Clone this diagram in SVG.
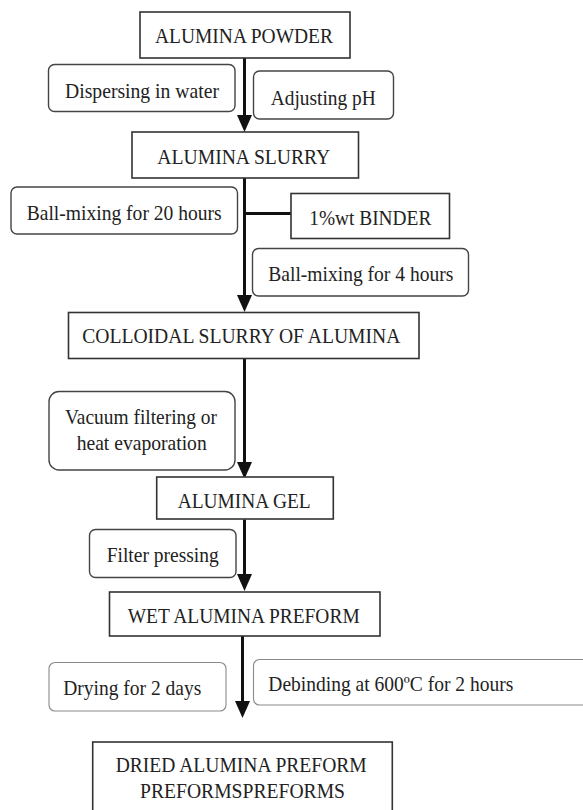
<svg xmlns="http://www.w3.org/2000/svg" width="583" height="810" viewBox="0 0 583 810">
<style>
  text { font-family: "Liberation Serif", "Times New Roman", serif; font-size: 22px; fill: #222; }
  .main { fill: #fff; stroke: #333; stroke-width: 1.6; }
  .step { fill: #fff; stroke: #444; stroke-width: 1.4; }
  .light { fill: #fff; stroke: #8a8a8a; stroke-width: 1.1; }
  .flow { stroke: #111; stroke-width: 3; fill: none; }
</style>
<defs>
  <marker id="arrow" markerUnits="userSpaceOnUse" markerWidth="17" markerHeight="15" viewBox="0 0 17 15" refX="9" refY="7.5" orient="auto">
    <path d="M0,0 L17,7.5 L0,15 z" fill="#111"/>
  </marker>
</defs>
<rect width="583" height="810" fill="#fff"/>
<g id="connectors">
  <line class="flow" x1="244.5" y1="58" x2="244.5" y2="124" marker-end="url(#arrow)"/>
  <line class="flow" x1="244.5" y1="178" x2="244.5" y2="304" marker-end="url(#arrow)"/>
  <line class="flow" x1="244.5" y1="213.5" x2="291" y2="213.5"/>
  <line class="flow" x1="244.5" y1="359" x2="244.5" y2="471" marker-end="url(#arrow)"/>
  <line class="flow" x1="244.5" y1="519.5" x2="244.5" y2="583" marker-end="url(#arrow)"/>
  <line class="flow" x1="242.5" y1="636" x2="242.5" y2="710" marker-end="url(#arrow)"/>
</g>
<g id="alumina-powder">
  <rect class="main" x="140" y="12" width="210" height="46"/>
  <text x="155" y="43" textLength="178" lengthAdjust="spacingAndGlyphs">ALUMINA POWDER</text>
</g>
<g id="dispersing">
  <rect class="step" x="48.5" y="64.5" width="186.5" height="47" rx="6"/>
  <text x="65" y="97.5" textLength="154" lengthAdjust="spacingAndGlyphs">Dispersing in water</text>
</g>
<g id="adjusting-ph">
  <rect class="step" x="253.5" y="71" width="140" height="48" rx="6"/>
  <text x="270.7" y="104.5" textLength="105" lengthAdjust="spacingAndGlyphs">Adjusting pH</text>
</g>
<g id="alumina-slurry">
  <rect class="main" x="132" y="132" width="226.5" height="46"/>
  <text x="157.3" y="163.5" textLength="173" lengthAdjust="spacingAndGlyphs">ALUMINA SLURRY</text>
</g>
<g id="ball-mixing-20">
  <rect class="step" x="11" y="187" width="226.5" height="47" rx="6"/>
  <text x="26.7" y="220" textLength="195" lengthAdjust="spacingAndGlyphs">Ball-mixing for 20 hours</text>
</g>
<g id="binder">
  <rect class="main" x="291" y="193.5" width="158.5" height="45"/>
  <text x="309.3" y="225" textLength="122" lengthAdjust="spacingAndGlyphs">1%wt BINDER</text>
</g>
<g id="ball-mixing-4">
  <rect class="step" x="252.5" y="248.5" width="216" height="47.5" rx="6"/>
  <text x="268.3" y="280.7" textLength="185" lengthAdjust="spacingAndGlyphs">Ball-mixing for 4 hours</text>
</g>
<g id="colloidal-slurry">
  <rect class="main" x="68.5" y="312.5" width="350.5" height="46"/>
  <text x="82.3" y="343.3" textLength="318" lengthAdjust="spacingAndGlyphs">COLLOIDAL SLURRY OF ALUMINA</text>
</g>
<g id="vacuum-filtering">
  <rect class="step" x="49" y="391.5" width="186" height="78.5" rx="10"/>
  <text x="65" y="424" textLength="152" lengthAdjust="spacingAndGlyphs">Vacuum filtering or</text>
  <text x="76.7" y="450" textLength="130" lengthAdjust="spacingAndGlyphs">heat evaporation</text>
</g>
<g id="alumina-gel">
  <rect class="main" x="156.7" y="477" width="176.6" height="42"/>
  <text x="177.7" y="508.3" textLength="133" lengthAdjust="spacingAndGlyphs">ALUMINA GEL</text>
</g>
<g id="filter-pressing">
  <rect class="step" x="89.5" y="529.5" width="146.5" height="48" rx="6"/>
  <text x="106.7" y="561.7" textLength="112" lengthAdjust="spacingAndGlyphs">Filter pressing</text>
</g>
<g id="wet-preform">
  <rect class="main" x="109.5" y="592" width="270.5" height="44"/>
  <text x="127.7" y="622.7" textLength="232" lengthAdjust="spacingAndGlyphs">WET ALUMINA PREFORM</text>
</g>
<g id="drying">
  <rect class="light" x="49" y="662.5" width="177" height="48.5" rx="6"/>
  <text x="63.3" y="695" textLength="138" lengthAdjust="spacingAndGlyphs">Drying for 2 days</text>
</g>
<g id="debinding">
  <rect class="light" x="253.5" y="659.5" width="340" height="45.5" rx="6"/>
  <text x="268.3" y="690.7" textLength="245" lengthAdjust="spacingAndGlyphs">Debinding at 600ºC for 2 hours</text>
</g>
<g id="dried-preform">
  <rect class="main" x="92.7" y="742" width="299.6" height="80"/>
  <text x="115.7" y="771.7" textLength="251" lengthAdjust="spacingAndGlyphs">DRIED ALUMINA PREFORM</text>
  <text x="140" y="798.3" textLength="205" lengthAdjust="spacingAndGlyphs">PREFORMSPREFORMS</text>
</g>
</svg>
